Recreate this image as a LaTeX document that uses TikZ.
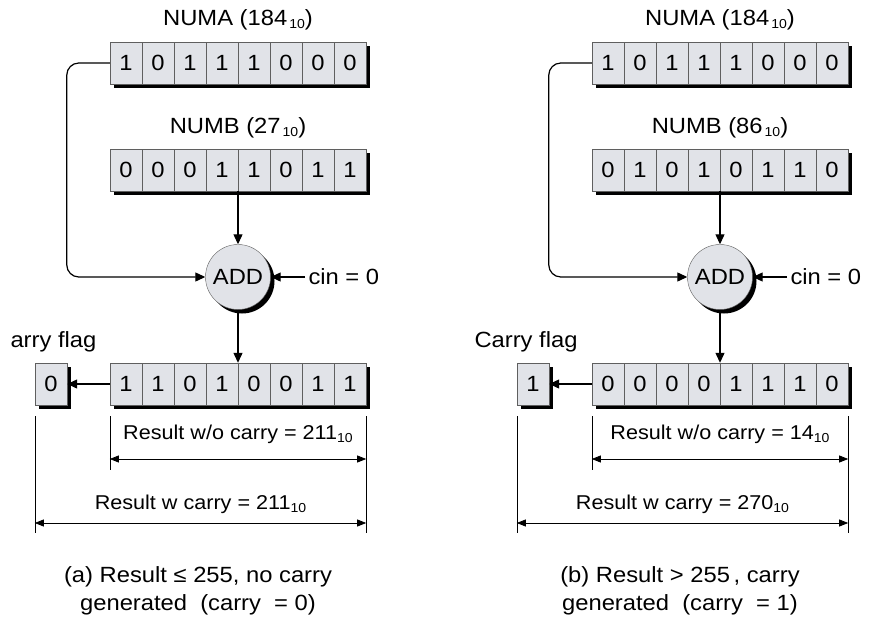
\documentclass[tikz,border=0pt]{standalone}
\usepackage{fontspec}
\setmainfont[FakeStretch=1.08]{Liberation Sans}
\usepackage{xcolor}
\usetikzlibrary{arrows.meta,positioning,backgrounds}
\definecolor{cellgray}{RGB}{225,227,232}
\definecolor{edgegray}{RGB}{95,95,95}
\newcommand{\dec}[1]{\raisebox{-3pt}{\fontsize{13}{14}\selectfont #1}}

\begin{document}
\begin{tikzpicture}[
    x=1pt, y=-1pt,
    font=\fontsize{22}{28}\selectfont,
    cell/.style={draw=edgegray, fill=cellgray, minimum width=32pt, minimum height=42pt, inner sep=0pt},
    addc/.style={circle, draw=edgegray, fill=cellgray, minimum size=65pt, inner sep=0pt},
    sh/.style={shift={(4pt,-4pt)}},
    res/.style={font=\fontsize{20}{24}\selectfont},
    arr/.style={-{Triangle[length=10pt, width=9pt]}, line width=1.2pt},
    ext/.style={line width=0.6pt},
    dim/.style={{Triangle[length=9pt, width=7pt]}-{Triangle[length=9pt, width=7pt]}, line width=0.8pt}
]
\useasboundingbox (0,0) rectangle (873,618);

% (a) no carry
\begin{scope}
\node (aNAt) at (238,20) {NUMA (184\kern2pt\dec{10})};
\foreach \b [count=\i] in {1,0,1,1,1,0,0,0}
    \node[cell] (aNA\i) at ({94+32*\i},63) {\b};
\node (aNBt) at (238,128) {NUMB (27\kern2pt\dec{10})};
\foreach \b [count=\i] in {0,0,0,1,1,0,1,1}
    \node[cell] (aNB\i) at ({94+32*\i},170) {\b};
\node[addc] (aAdd) at (238,277) {ADD};
\node[anchor=west] (aCin) at (305,277) {cin = 0};
\foreach \b [count=\i] in {1,1,0,1,0,0,1,1}
    \node[cell] (aR\i) at ({94+32*\i},384) {\b};
\node[cell] (aCF) at (51,384) {0};
\node[anchor=west] (aCFt) at (7,342) {arry flag};

\draw[arr, rounded corners=12pt] (aNA1.west) -- ++(-43,0) |- (aAdd.west);
\draw[arr] (aAdd.north |- aNB4.south) -- (aAdd.north);
\draw[arr] (aCin.west) -- (aAdd.east);
\draw[arr] (aAdd.south) -- (aAdd.south |- aR4.north);
\draw[arr] (aR1.west) -- (aCF.east);

\draw[ext] (aCF.west |- 0,416) -- (aCF.west |- 0,533);
\draw[ext] (aR1.west |- 0,416) -- (aR1.west |- 0,470);
\draw[ext] (aR8.east |- 0,416) -- (aR8.east |- 0,533);
\draw[dim] (aR1.west |- 0,459) -- node[res, above=12pt] {Result w/o carry = 211\dec{10}} (aR8.east |- 0,459);
\draw[dim] (aCF.west |- 0,523) -- node[res, above=6pt] {Result w carry = 211\dec{10}} (aR8.east |- 0,523);

\node[align=center] (aCap) at (198,591) {(a) Result ≤ 255, no carry\\generated\ \ (carry\ \ = 0)};
\end{scope}

% (b) carry generated
\begin{scope}[xshift=482pt]
\node (bNAt) at (238,20) {NUMA (184\kern2pt\dec{10})};
\foreach \b [count=\i] in {1,0,1,1,1,0,0,0}
    \node[cell] (bNA\i) at ({94+32*\i},63) {\b};
\node (bNBt) at (238,128) {NUMB (86\kern2pt\dec{10})};
\foreach \b [count=\i] in {0,1,0,1,0,1,1,0}
    \node[cell] (bNB\i) at ({94+32*\i},170) {\b};
\node[addc] (bAdd) at (238,277) {ADD};
\node[anchor=west] (bCin) at (305,277) {cin = 0};
\foreach \b [count=\i] in {0,0,0,0,1,1,1,0}
    \node[cell] (bR\i) at ({94+32*\i},384) {\b};
\node[cell] (bCF) at (51,384) {1};
\node (bCFt) at (44,342) {Carry flag};

\draw[arr, rounded corners=12pt] (bNA1.west) -- ++(-43,0) |- (bAdd.west);
\draw[arr] (bAdd.north |- bNB4.south) -- (bAdd.north);
\draw[arr] (bCin.west) -- (bAdd.east);
\draw[arr] (bAdd.south) -- (bAdd.south |- bR4.north);
\draw[arr] (bR1.west) -- (bCF.east);

\draw[ext] (bCF.west |- 0,416) -- (bCF.west |- 0,533);
\draw[ext] (bR1.west |- 0,416) -- (bR1.west |- 0,470);
\draw[ext] (bR8.east |- 0,416) -- (bR8.east |- 0,533);
\draw[dim] (bR1.west |- 0,459) -- node[res, above=12pt] {Result w/o carry = 14\dec{10}} (bR8.east |- 0,459);
\draw[dim] (bCF.west |- 0,523) -- node[res, above=6pt] {Result w carry = 270\dec{10}} (bR8.east |- 0,523);

\node[align=center] (bCap) at (198,591) {(b) Result > 255\,, carry\\generated\ \ (carry\ \ = 1)};
\end{scope}

% drop shadows
\begin{scope}[on background layer]
\foreach \r in {aNA,aNB,aR,bNA,bNB,bR}
    \fill ([sh]\r1.south west) rectangle ([sh]\r8.north east);
\foreach \r in {aCF,bCF}
    \fill ([sh]\r.south west) rectangle ([sh]\r.north east);
\foreach \r in {aAdd,bAdd}
    \fill ([sh]\r.center) circle (32.5);
\end{scope}
\end{tikzpicture}
\end{document}
